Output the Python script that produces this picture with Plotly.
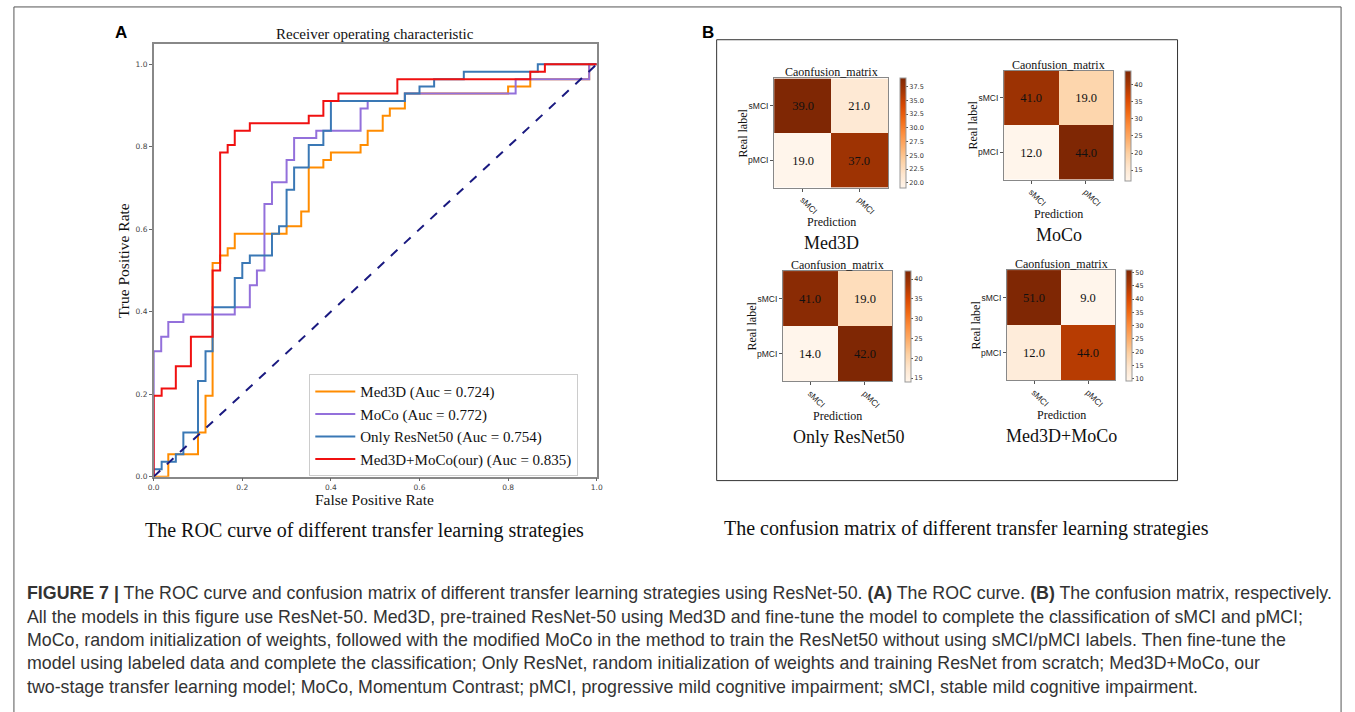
import plotly.graph_objects as go

W, H = 1355, 712

# ---------------- ROC data ----------------
med3d_fpr = [0, 0.033, 0.1, 0.117, 0.133, 0.15, 0.167, 0.183, 0.3, 0.333, 0.35, 0.383, 0.4, 0.467, 0.483, 0.517, 0.533, 0.567, 0.8, 0.85, 0.983, 1.0]
med3d_tpr = [0, 0.054, 0.107, 0.196, 0.518, 0.536, 0.554, 0.589, 0.607, 0.643, 0.75, 0.768, 0.786, 0.804, 0.839, 0.875, 0.893, 0.929, 0.946, 0.964, 1.0, 1.0]

moco_fpr = [0, 0, 0.017, 0.033, 0.067, 0.183, 0.217, 0.233, 0.25, 0.267, 0.3, 0.317, 0.367, 0.467, 0.483, 0.567, 0.817, 0.983, 1.0]
moco_tpr = [0, 0.304, 0.339, 0.375, 0.393, 0.411, 0.464, 0.5, 0.661, 0.714, 0.768, 0.821, 0.839, 0.893, 0.911, 0.929, 0.964, 1.0, 1.0]

resnet_fpr = [0, 0, 0.018, 0.05, 0.067, 0.1, 0.117, 0.133, 0.183, 0.2, 0.217, 0.267, 0.283, 0.3, 0.317, 0.35, 0.383, 0.4, 0.567, 0.6, 0.633, 0.7, 0.867, 1.0]
resnet_tpr = [0, 0.018, 0.036, 0.054, 0.107, 0.232, 0.304, 0.411, 0.482, 0.518, 0.536, 0.589, 0.607, 0.696, 0.75, 0.804, 0.839, 0.911, 0.929, 0.946, 0.964, 0.982, 1.0, 1.0]

ours_fpr = [0, 0, 0.018, 0.05, 0.084, 0.133, 0.15, 0.167, 0.183, 0.217, 0.35, 0.383, 0.417, 0.55, 0.85, 0.883, 1.0]
ours_tpr = [0, 0.196, 0.214, 0.268, 0.339, 0.5, 0.786, 0.804, 0.839, 0.857, 0.875, 0.911, 0.929, 0.964, 0.982, 1.0, 1.0]

roc_names = ["Med3D (Auc = 0.724)", "MoCo (Auc = 0.772)", "Only ResNet50 (Auc = 0.754)", "Med3D+MoCo(our) (Auc = 0.835)"]
roc_colors = ["#ff8c00", "#9370db", "#3a78b5", "#f01010"]

# ---------------- Confusion matrices ----------------
labels = ["sMCI", "pMCI"]
cm_med3d = [[39.0, 21.0], [19.0, 37.0]]
cm_moco = [[41.0, 19.0], [12.0, 44.0]]
cm_resnet = [[41.0, 19.0], [14.0, 42.0]]
cm_ours = [[51.0, 9.0], [12.0, 44.0]]
cm_titles = ["Med3D", "MoCo", "Only ResNet50", "Med3D+MoCo"]

SERIF = "Liberation Serif, Times New Roman, serif"
SANS = "DejaVu Sans, sans-serif"
ARIAL = "Liberation Sans, Arial, sans-serif"


def px(x):
    return x / W


def py(y):
    return 1 - y / H


fig = go.Figure()

for fx, ty, nm, col in zip([med3d_fpr, moco_fpr, resnet_fpr, ours_fpr],
                           [med3d_tpr, moco_tpr, resnet_tpr, ours_tpr],
                           roc_names, roc_colors):
    fig.add_trace(go.Scatter(x=fx, y=ty, mode="lines", name=nm,
                             line=dict(color=col, width=2, shape="hv"),
                             xaxis="x", yaxis="y"))

fig.add_trace(go.Scatter(x=[0, 1], y=[0, 1], mode="lines", showlegend=False,
                         line=dict(color="#1a1a80", width=2, dash="dash"),
                         xaxis="x", yaxis="y"))

# heatmap placements: (x0, x1, y_top, y_bot, colorbar_x, dtick, fmt)
cm_list = [cm_med3d, cm_moco, cm_resnet, cm_ours]
places = [
    (775, 890, 79, 189, 902, 2.5, ".1f"),
    (1007, 1117, 71, 181, 1129, 5, "d"),
    (784, 894, 273, 384, 907, 5, "d"),
    (1010, 1119, 272, 383, 1130, 5, "d"),
]

annotations = []
layout_axes = {}
for i, (cm, pl, ttl) in enumerate(zip(cm_list, places, cm_titles)):
    x0, x1, yt, yb, cbx, dt, fmt = pl
    n = i + 2
    flat = [v for row in cm for v in row]
    fig.add_trace(go.Heatmap(
        z=cm, x=labels, y=labels, colorscale="Oranges",
        zmin=min(flat), zmax=max(flat),
        texttemplate="%{z:.1f}",
        textfont=dict(family=SERIF, size=12.5, color="#111"),
        xaxis=f"x{n}", yaxis=f"y{n}", showscale=True,
        colorbar=dict(x=px(cbx), xanchor="left", xpad=0,
                      y=py(yt), yanchor="top", ypad=0,
                      len=yb - yt, lenmode="pixels", thickness=6,
                      outlinewidth=1, outlinecolor="#999",
                      ticks="outside", ticklen=2, tickcolor="#555",
                      dtick=dt, tickformat=fmt,
                      tickfont=dict(family=SANS, size=6.5, color="#333")),
        hoverinfo="skip"))
    layout_axes[f"xaxis{n}"] = dict(domain=[px(x0), px(x1)], anchor=f"y{n}",
                                    showline=True, mirror=True, linecolor="#888", linewidth=1,
                                    ticks="outside", ticklen=3, tickcolor="#555",
                                    tickangle=45, showgrid=False, zeroline=False,
                                    tickfont=dict(family=ARIAL, size=8.5, color="#222"))
    layout_axes[f"yaxis{n}"] = dict(domain=[py(yb), py(yt)], anchor=f"x{n}",
                                    showline=True, mirror=True, linecolor="#888", linewidth=1,
                                    ticks="outside", ticklen=3, tickcolor="#555",
                                    autorange="reversed", showgrid=False, zeroline=False,
                                    tickfont=dict(family=ARIAL, size=8.5, color="#222"))
    cx = (x0 + x1) / 2
    annotations.append(dict(text="Caonfusion_matrix", x=px(cx), y=py(yt - 6), xref="paper", yref="paper",
                            showarrow=False, font=dict(family=SERIF, size=12, color="#111"),
                            xanchor="center", yanchor="middle"))
    annotations.append(dict(text="Real label", x=px(x0 - 31), y=py((yt + yb) / 2), xref="paper", yref="paper",
                            showarrow=False, textangle=-90, font=dict(family=SERIF, size=12, color="#111"),
                            xanchor="center", yanchor="middle"))
    annotations.append(dict(text="Prediction", x=px(cx), y=py(yb + 35), xref="paper", yref="paper",
                            showarrow=False, font=dict(family=SERIF, size=12, color="#111"),
                            xanchor="center", yanchor="middle"))
    annotations.append(dict(text=ttl, x=px(cx + (12 if i == 2 else 0)), y=py(yb + 56), xref="paper", yref="paper",
                            showarrow=False, font=dict(family=SERIF, size=18, color="#111"),
                            xanchor="center", yanchor="middle"))

# ROC texts
annotations += [
    dict(text="Receiver operating characteristic", x=px(372), y=py(34), xref="paper", yref="paper",
         showarrow=False, font=dict(family=SERIF, size=15, color="#111"), xanchor="center", yanchor="middle"),
    dict(text="False Positive Rate", x=px(372), y=py(503), xref="paper", yref="paper",
         showarrow=False, font=dict(family=SERIF, size=15.5, color="#111"), xanchor="center", yanchor="middle"),
    dict(text="True Positive Rate", x=px(118), y=py(262), xref="paper", yref="paper", textangle=-90,
         showarrow=False, font=dict(family=SERIF, size=15.5, color="#111"), xanchor="center", yanchor="middle"),
    dict(text="<b>A</b>", x=px(116), y=py(33), xref="paper", yref="paper",
         showarrow=False, font=dict(family=ARIAL, size=17, color="#000"),
         xanchor="center", yanchor="middle"),
    dict(text="<b>B</b>", x=px(708), y=py(33), xref="paper", yref="paper",
         showarrow=False, font=dict(family=ARIAL, size=17, color="#000"),
         xanchor="center", yanchor="middle"),
    dict(text="The ROC curve of different transfer learning strategies", x=px(362), y=py(534),
         xref="paper", yref="paper", showarrow=False, font=dict(family=SERIF, size=20, color="#111"),
         xanchor="center", yanchor="middle"),
    dict(text="The confusion matrix of different transfer learning strategies", x=px(969), y=py(532),
         xref="paper", yref="paper", showarrow=False, font=dict(family=SERIF, size=20, color="#111"),
         xanchor="center", yanchor="middle"),
]

caption_lines = [
    "<b>FIGURE 7 |</b> The ROC curve and confusion matrix of different transfer learning strategies using ResNet-50. <b>(A)</b> The ROC curve. <b>(B)</b> The confusion matrix, respectively.",
    "All the models in this figure use ResNet-50. Med3D, pre-trained ResNet-50 using Med3D and fine-tune the model to complete the classification of sMCI and pMCI;",
    "MoCo, random initialization of weights, followed with the modified MoCo in the method to train the ResNet50 without using sMCI/pMCI labels. Then fine-tune the",
    "model using labeled data and complete the classification; Only ResNet, random initialization of weights and training ResNet from scratch; Med3D+MoCo, our",
    "two-stage transfer learning model; MoCo, Momentum Contrast; pMCI, progressive mild cognitive impairment; sMCI, stable mild cognitive impairment.",
]
caption_y = [597, 621, 645, 668, 692]
for t, yy in zip(caption_lines, caption_y):
    annotations.append(dict(text=t, x=px(19), y=py(yy), xref="paper", yref="paper", showarrow=False,
                            font=dict(family=ARIAL, size=17.8, color="#333"),
                            xanchor="left", yanchor="middle"))

shapes = [
    dict(type="rect", xref="paper", yref="paper", x0=px(8), x1=px(1347), y0=py(730), y1=py(7),
         line=dict(color="#555", width=1)),
    dict(type="rect", xref="paper", yref="paper", x0=px(717), x1=px(1182), y0=py(484), y1=py(40),
         line=dict(color="#333", width=1)),
]

fig.update_layout(
    width=W, height=H, margin=dict(l=0, r=0, t=0, b=0),
    paper_bgcolor="white", plot_bgcolor="white",
    xaxis=dict(domain=[px(149), px(596)], anchor="y", range=[0, 1],
               showline=True, mirror=True, linecolor="#888", linewidth=1.5,
               ticks="outside", ticklen=3, tickcolor="#666", dtick=0.2, tickformat=".1f",
               showgrid=False, zeroline=False,
               tickfont=dict(family=SANS, size=7.5, color="#444")),
    yaxis=dict(domain=[py(480), py(44)], anchor="x", range=[0, 1.05],
               showline=True, mirror=True, linecolor="#888", linewidth=1.5,
               ticks="outside", ticklen=3, tickcolor="#666", dtick=0.2, tickformat=".1f",
               showgrid=False, zeroline=False,
               tickfont=dict(family=SANS, size=7.5, color="#444")),
    legend=dict(x=px(306), y=py(377), xanchor="left", yanchor="top",
                bgcolor="white", bordercolor="#cccccc", borderwidth=1,
                font=dict(family=SERIF, size=15, color="#111"),
                tracegroupgap=0, itemwidth=40),
    annotations=annotations, shapes=shapes,
    **layout_axes,
)

post = (
    "document.documentElement.style.margin='0';"
    "document.documentElement.style.padding='0';"
    "document.documentElement.style.overflow='hidden';"
    "document.body.style.margin='0';"
    "document.body.style.padding='0';"
    "document.body.style.overflow='hidden';"
    "var gd=document.getElementById('{plot_id}');"
    "gd.style.position='fixed';gd.style.left='0px';gd.style.top='0px';"
)

fig.write_html("out.html", config={"displayModeBar": False}, post_script=post)
